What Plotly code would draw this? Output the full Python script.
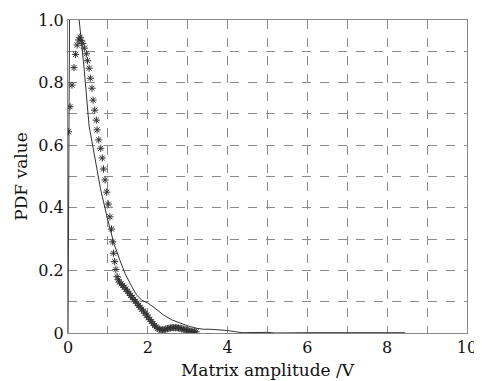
import plotly.graph_objects as go

# Empirical PDF (star markers)
star_x = [0.01, 0.05, 0.10, 0.15, 0.19, 0.23, 0.27, 0.30, 0.33, 0.37, 0.41, 0.46, 0.49, 0.53,
          0.56, 0.60, 0.63, 0.67, 0.71, 0.73, 0.77, 0.82, 0.86, 0.89, 0.93, 0.97, 1.01, 1.05,
          1.09, 1.12, 1.14, 1.17, 1.20, 1.23, 1.26, 1.29, 1.33, 1.37, 1.41, 1.45, 1.49, 1.53,
          1.57, 1.61, 1.65, 1.69, 1.73, 1.77, 1.81, 1.85, 1.89, 1.93, 1.97, 2.01, 2.05, 2.09,
          2.13, 2.17, 2.21, 2.25, 2.29, 2.33, 2.37, 2.41, 2.45, 2.49, 2.53, 2.57, 2.61, 2.65,
          2.69, 2.73, 2.77, 2.81, 2.85, 2.89, 2.93, 2.97, 3.01, 3.05, 3.09, 3.13, 3.17, 3.21]
star_y = [0.643, 0.723, 0.792, 0.848, 0.890, 0.920, 0.936, 0.945, 0.935, 0.925, 0.910, 0.892,
          0.870, 0.846, 0.814, 0.782, 0.744, 0.712, 0.680, 0.649, 0.617, 0.590, 0.559, 0.524,
          0.489, 0.450, 0.412, 0.371, 0.332, 0.291, 0.255, 0.228, 0.203, 0.180, 0.170, 0.163,
          0.157, 0.152, 0.146, 0.140, 0.133, 0.127, 0.120, 0.113, 0.107, 0.101, 0.095, 0.088,
          0.082, 0.076, 0.070, 0.063, 0.057, 0.050, 0.043, 0.037, 0.030, 0.024, 0.019, 0.015,
          0.012, 0.010, 0.010, 0.010, 0.012, 0.014, 0.015, 0.016, 0.017, 0.017, 0.017, 0.017,
          0.016, 0.015, 0.013, 0.012, 0.011, 0.009, 0.008, 0.006, 0.005, 0.005, 0.004, 0.004]

# Theoretical PDF (solid line)
line_x = [0.00, 0.02, 0.04, 0.08, 0.15, 0.22, 0.28, 0.40, 0.53, 0.57, 0.82, 1.00, 1.16, 1.30,
          1.43, 1.60, 1.72, 1.85, 2.01, 2.18, 2.39, 2.60, 2.81, 3.02, 3.23, 3.39, 3.56, 3.80,
          4.00, 4.20, 4.36, 5.00, 5.20, 6.00, 7.00, 8.00, 8.45]
line_y = [0.000, 0.550, 1.050, 1.300, 1.250, 1.120, 1.000, 0.850, 0.660, 0.633, 0.457, 0.360,
          0.282, 0.233, 0.190, 0.148, 0.121, 0.105, 0.095, 0.079, 0.058, 0.042, 0.031, 0.022,
          0.015, 0.012, 0.012, 0.010, 0.008, 0.004, 0.001, 0.002, 0.000, 0.001, 0.001, 0.001, 0.001]

x_ticks = [0, 1, 2, 3, 4, 5, 6, 7, 8, 9, 10]
x_labels = ["0", "", "2", "", "4", "", "6", "", "8", "", "10"]
y_ticks = [0, 0.1, 0.2, 0.3, 0.4, 0.5, 0.6, 0.7, 0.8, 0.9, 1.0]
y_labels = ["0", "", "0.2", "", "0.4", "", "0.6", "", "0.8", "", "1.0"]

font_family = "DejaVu Serif, Liberation Serif, serif"

fig = go.Figure()
fig.add_trace(go.Scatter(
    x=line_x, y=line_y, mode="lines",
    line=dict(color="#333333", width=1),
    showlegend=False,
))
fig.add_trace(go.Scatter(
    x=star_x, y=star_y, mode="markers",
    marker=dict(symbol="asterisk-open", size=6, color="#333333",
                line=dict(color="#333333", width=1)),
    showlegend=False,
))

# the page body adds an 8px margin, so the figure is sized 8px smaller
fig.update_layout(
    width=474, height=373,
    margin=dict(l=60, r=15, t=12, b=48, autoexpand=False),
    paper_bgcolor="white", plot_bgcolor="white",
    font=dict(family=font_family, size=16, color="#111111"),
    xaxis=dict(
        range=[0, 10], tickvals=x_ticks, ticktext=x_labels,
        showgrid=True, gridcolor="#8a8a8a", griddash="dash", gridwidth=1,
        showline=True, linecolor="#888888", linewidth=1, mirror=True,
        zeroline=False, ticks="", ticklen=0, automargin=False,
        title=dict(text="Matrix amplitude /V", font=dict(size=17), standoff=7),
    ),
    yaxis=dict(
        range=[0, 1], tickvals=y_ticks, ticktext=y_labels,
        showgrid=True, gridcolor="#8a8a8a", griddash="dash", gridwidth=1,
        showline=True, linecolor="#888888", linewidth=1, mirror=True,
        zeroline=False, ticks="", ticklen=0, automargin=False,
        title=dict(text="PDF value", font=dict(size=17), standoff=6),
    ),
)

fig.write_html("out.html")
